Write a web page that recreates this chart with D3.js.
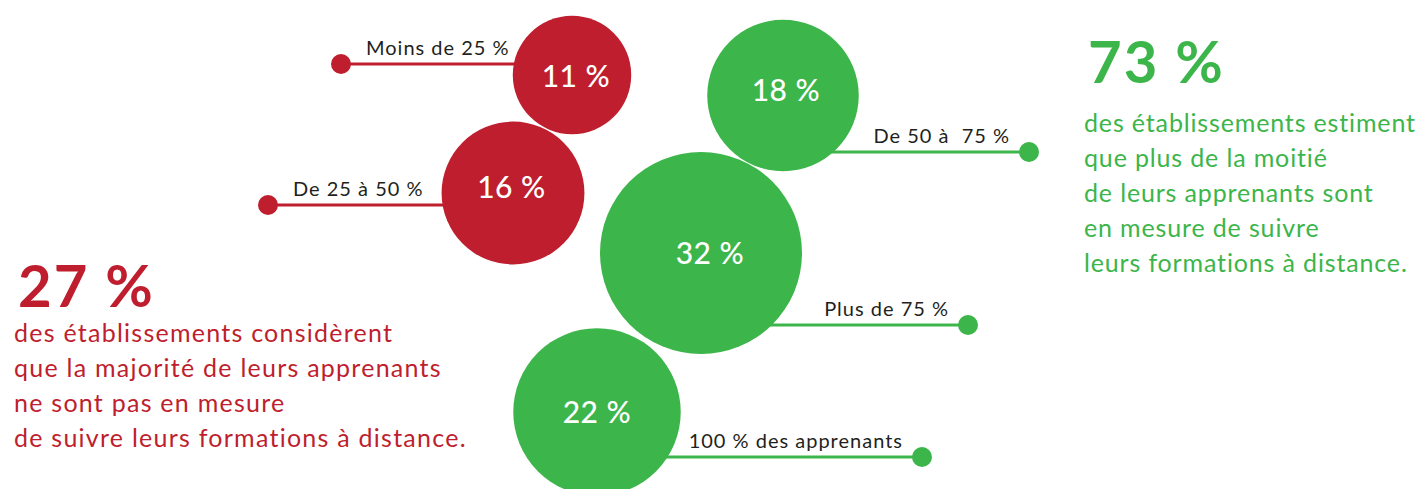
<!DOCTYPE html>
<html><head><meta charset="utf-8">
<script src="https://cdn.jsdelivr.net/npm/d3@7"></script>
<style>
html,body{margin:0;padding:0;background:#fff;}
svg{display:block;}
text{font-family:Lato,"Noto Sans",sans-serif;}
</style></head>
<body>
<svg id="chart" width="1424" height="489"></svg>
<script>
// ---- data ----
const categories = ["Moins de 25 %", "De 25 à 50 %", "De 50 à  75 %", "Plus de 75 %", "100 % des apprenants"];
const values = [11, 16, 18, 32, 22];
const groups = ["neg", "neg", "pos", "pos", "pos"];
const summaryValues = [27, 73];
const summaryGroups = ["neg", "pos"];
const summaryLines = [
  ["des établissements considèrent", "que la majorité de leurs apprenants", "ne sont pas en mesure", "de suivre leurs formations à distance."],
  ["des établissements estiment", "que plus de la moitié", "de leurs apprenants sont", "en mesure de suivre", "leurs formations à distance."]
];

// ---- layout (positions only) ----
const layoutCx = [572, 513, 783, 701, 597];
const layoutCy = [75, 193, 95.5, 253, 412];
const layoutLabelX = [576, 511.5, 786, 710, 597];
const layoutLabelY = [87, 198, 101, 264, 423];
const layoutLineY = [64, 205, 152, 325, 457];
const layoutDotX = [341, 268, 1029, 968, 922];
const summaryX = [18, 1088];
const summaryBigY = [307, 83];
const summaryTextY = [342, 132];
const summarySpacing = [1.25, 0.85];
const lineGap = 35;

const color = d3.scaleOrdinal().domain(["neg", "pos"]).range(["#BE1E2D", "#3CB54A"]);
const r = d3.scaleSqrt().domain([0, 32]).range([0, 101]);

const svg = d3.select("#chart");
const data = categories.map((c, i) => ({c, v: values[i], g: groups[i], cx: layoutCx[i], cy: layoutCy[i],
  lx: layoutLabelX[i], lyy: layoutLabelY[i], ly: layoutLineY[i], dx: layoutDotX[i]}));

const gItems = svg.selectAll("g.item").data(data).join("g").attr("class", "item");

gItems.append("line")
  .attr("x1", d => d.cx).attr("x2", d => d.dx)
  .attr("y1", d => d.ly).attr("y2", d => d.ly)
  .attr("stroke", d => color(d.g)).attr("stroke-width", 3);

gItems.append("circle")
  .attr("cx", d => d.dx).attr("cy", d => d.ly).attr("r", 10)
  .attr("fill", d => color(d.g));

gItems.append("text")
  .attr("x", d => d.g === "neg" ? d.dx + 25 : d.dx - 19)
  .attr("y", d => d.ly - 9)
  .attr("text-anchor", d => d.g === "neg" ? "start" : "end")
  .attr("font-size", 20)
  .attr("letter-spacing", 1)
  .attr("fill", "#231F20")
  .style("white-space", "pre")
  .text(d => d.c);

svg.selectAll("circle.bubble").data(data).join("circle").attr("class", "bubble")
  .attr("cx", d => d.cx).attr("cy", d => d.cy).attr("r", d => r(d.v))
  .attr("fill", d => color(d.g));

svg.selectAll("text.val").data(data).join("text").attr("class", "val")
  .attr("x", d => d.lx).attr("y", d => d.lyy)
  .attr("text-anchor", "middle")
  .attr("font-size", 30).attr("font-weight", 500)
  .attr("letter-spacing", 0.5)
  .attr("fill", "#fff")
  .text(d => d.v + " %");

// summaries
summaryValues.forEach((v, i) => {
  svg.append("text")
    .attr("x", summaryX[i]).attr("y", summaryBigY[i])
    .attr("font-size", 58).attr("font-weight", 700)
    .attr("letter-spacing", 2)
    .attr("fill", color(summaryGroups[i]))
    .text(v + " %");
  const t = svg.append("text")
    .attr("font-size", 25)
    .attr("letter-spacing", summarySpacing[i])
    .attr("fill", color(summaryGroups[i]));
  summaryLines[i].forEach((l, j) => {
    t.append("tspan").attr("x", summaryX[i] - 4).attr("y", summaryTextY[i] + j * lineGap).text(l);
  });
});
</script>
</body></html>
